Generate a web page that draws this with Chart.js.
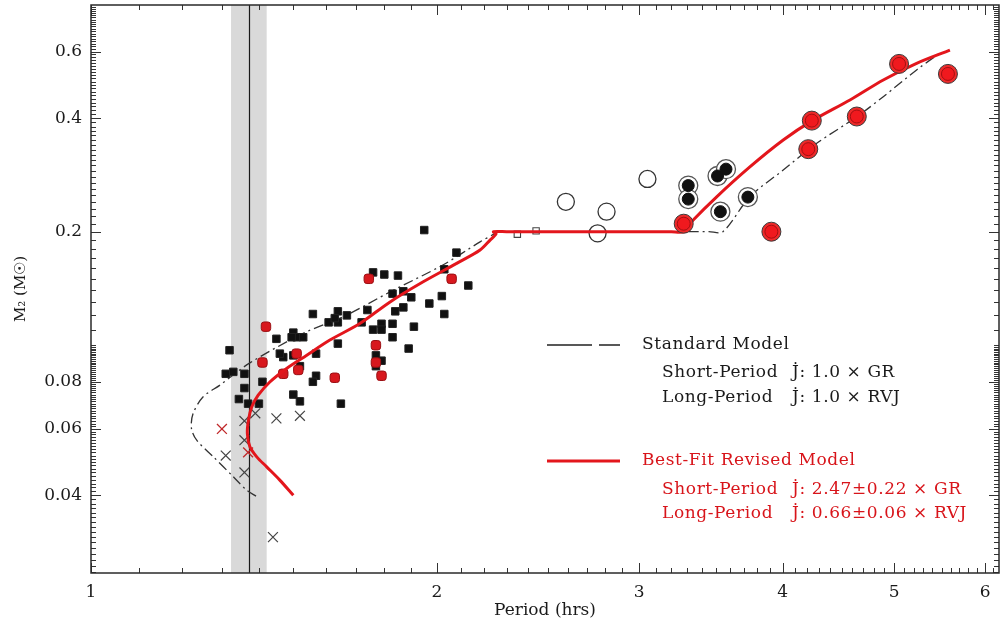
<!DOCTYPE html>
<html><head><meta charset="utf-8">
<script src="https://cdn.jsdelivr.net/npm/chart.js@4.4.1/dist/chart.umd.min.js"></script>
<style>html,body{margin:0;padding:0;background:#fff;}</style>
</head><body>
<canvas id="c" width="1003" height="629"></canvas>
<script>
// ---------- data ----------
const xTickValues = [1, 2, 3, 4, 5, 6];
const yTickValues = [0.04, 0.06, 0.08, 0.2, 0.4, 0.6];
const periodRange = [1, 6.17];
const massRange = [0.0249, 0.798];
const bounceBand = [1.324, 1.422];
const bounceLine = 1.373;

const blackSquares = [[1.95,0.202],[2.08,0.176],[2.03,0.159],[2.13,0.144],[1.76,0.156],[1.80,0.154],[1.85,0.153],[1.83,0.137],[1.87,0.139],[1.90,0.134],[1.97,0.129],[2.02,0.135],[2.03,0.121],[1.74,0.124],[1.84,0.123],[1.87,0.126],[1.56,0.121],[1.64,0.123],[1.67,0.120],[1.61,0.115],[1.64,0.115],[1.63,0.118],[1.72,0.115],[1.76,0.110],[1.79,0.114],[1.83,0.114],[1.79,0.110],[1.91,0.112],[1.83,0.105],[1.89,0.098],[1.64,0.101],[1.57,0.095],[1.50,0.108],[1.51,0.105],[1.53,0.105],[1.495,0.105],[1.45,0.104],[1.47,0.093],[1.46,0.095],[1.50,0.094],[1.52,0.088],[1.57,0.083],[1.56,0.080],[1.50,0.074],[1.52,0.071],[1.65,0.070],[1.79,0.091],[1.77,0.094],[1.77,0.088],[1.32,0.097],[1.31,0.084],[1.33,0.085],[1.36,0.084],[1.36,0.077],[1.345,0.072],[1.37,0.070],[1.40,0.070],[1.41,0.080]];
const redSquares = [[1.745,0.150],[2.06,0.150],[1.42,0.112],[1.41,0.090],[1.51,0.095],[1.515,0.086],[1.47,0.084],[1.63,0.082],[1.77,0.100],[1.77,0.090],[1.79,0.083]];
const openSquares = [[2.35,0.197],[2.44,0.201]];
const openCircles = [[2.59,0.240],[2.81,0.226],[3.05,0.276],[2.76,0.198]];
const blackCircles = [[3.31,0.265],[3.31,0.244],[3.51,0.281],[3.57,0.293],[3.53,0.226],[3.73,0.247]];
const redCircles = [[3.28,0.210],[5.05,0.557],[5.57,0.524],[4.24,0.394],[4.64,0.404],[4.21,0.331],[3.91,0.200]];
const blackCrosses = [[1.39,0.066],[1.45,0.064],[1.52,0.065],[1.31,0.051],[1.36,0.046],[1.36,0.056],[1.36,0.063],[1.44,0.031]];
const redCrosses = [[1.30,0.060],[1.37,0.052]];

const bestFitModel = [[1.50,0.0400],[1.46,0.0439],[1.422,0.0476],[1.394,0.0506],[1.375,0.0538],[1.368,0.0583],[1.371,0.0633],[1.380,0.0686],[1.398,0.0737],[1.431,0.0799],[1.480,0.0868],[1.541,0.0941],[1.614,0.1032],[1.714,0.1142],[1.821,0.1303],[1.946,0.1473],[2.081,0.1648],[2.181,0.1788],[2.225,0.190],[2.252,0.1975],[2.240,0.2],[2.30,0.2],[3.20,0.2],[3.28,0.2],[3.343,0.2147],[3.504,0.2475],[3.745,0.297],[4.004,0.350],[4.244,0.394],[4.577,0.447],[4.893,0.505],[5.231,0.559],[5.592,0.606]];
const standardModel = [[1.392,0.0398],[1.366,0.0413],[1.330,0.0448],[1.278,0.0506],[1.236,0.0560],[1.223,0.0602],[1.227,0.0659],[1.252,0.0730],[1.295,0.0784],[1.375,0.0898],[1.530,0.1075],[1.669,0.1202],[1.821,0.1385],[2.026,0.1635],[2.181,0.188],[2.247,0.198],[2.247,0.2],[2.30,0.2],[3.45,0.2],[3.548,0.2],[3.745,0.2475],[4.004,0.2914],[4.282,0.343],[4.641,0.4035],[4.893,0.456],[5.231,0.537],[5.48,0.595]];

const legendStandard = {title: 'Standard Model', rows: [['Short-Period', 'J\u0307: 1.0 \u00d7 GR'], ['Long-Period', 'J\u0307: 1.0 \u00d7 RVJ']]};
const legendBestFit = {title: 'Best-Fit Revised Model', rows: [['Short-Period', 'J\u0307: 2.47\u00b10.22 \u00d7 GR'], ['Long-Period', 'J\u0307: 0.66\u00b10.06 \u00d7 RVJ']]};

// ---------- helpers ----------
const FONT = '"DejaVu Serif", "Liberation Serif", serif';
const RED = '#e3161c';
const pts = arr => arr.map(([x, y]) => ({x, y}));

const decor = {
  id: 'decor',
  beforeDatasetsDraw(chart) {
    const {ctx, chartArea: a, scales: {x}} = chart;
    ctx.save();
    const x0 = x.getPixelForValue(bounceBand[0]);
    const x1 = x.getPixelForValue(bounceBand[1]);
    ctx.fillStyle = '#d9d9d9';
    ctx.fillRect(x0, a.top, x1 - x0, a.bottom - a.top);
    const xl = Math.round(x.getPixelForValue(bounceLine)) + 0.5;
    ctx.strokeStyle = '#1a1a1a';
    ctx.lineWidth = 1.2;
    ctx.beginPath(); ctx.moveTo(xl, a.top); ctx.lineTo(xl, a.bottom); ctx.stroke();
    ctx.restore();
  },
  afterDraw(chart) {
    const {ctx, chartArea: a, scales: {x, y}} = chart;
    ctx.save();
    // ticks (inward, all four sides)
    ctx.strokeStyle = '#333';
    ctx.lineWidth = 1;
    ctx.beginPath();
    const xMinor = [];
    for (let i = 11; i <= 62; i++) if (i % 10) xMinor.push(i / 10);
    const yMinor = [];
    for (let i = 25; i < 100; i++) yMinor.push(i / 1000);
    for (let i = 10; i < 80; i++) yMinor.push(i / 100);
    const xt = (v, len) => {
      const p = Math.round(x.getPixelForValue(v)) + 0.5;
      if (p < a.left || p > a.right) return;
      ctx.moveTo(p, a.bottom); ctx.lineTo(p, a.bottom - len);
      ctx.moveTo(p, a.top); ctx.lineTo(p, a.top + len);
    };
    const yt = (v, len) => {
      const p = Math.round(y.getPixelForValue(v)) + 0.5;
      if (p < a.top || p > a.bottom) return;
      ctx.moveTo(a.left, p); ctx.lineTo(a.left + len, p);
      ctx.moveTo(a.right, p); ctx.lineTo(a.right - len, p);
    };
    xMinor.forEach(v => xt(v, 5));
    xTickValues.forEach(v => xt(v, 10));
    yMinor.forEach(v => { if (!yTickValues.includes(v)) yt(v, 5); });
    yTickValues.forEach(v => yt(v, 10));
    ctx.stroke();
    // frame
    ctx.strokeStyle = '#2a2a2a';
    ctx.lineWidth = 1.5;
    ctx.strokeRect(a.left, a.top, a.right - a.left, a.bottom - a.top);

    // legend
    const lx = a.left + 456, tx = a.left + 551, rx = a.left + 571, jx = a.left + 701;
    ctx.font = '17px ' + FONT;
    ctx.letterSpacing = '0.6px';
    ctx.textBaseline = 'middle';
    ctx.textAlign = 'left';
    // standard
    let ly = 345;
    ctx.strokeStyle = '#222'; ctx.lineWidth = 1.3;
    ctx.beginPath(); ctx.moveTo(lx, ly); ctx.lineTo(lx + 45, ly); ctx.moveTo(lx + 52, ly); ctx.lineTo(lx + 73, ly); ctx.stroke();
    ctx.fillStyle = '#1a1a1a';
    ctx.fillText(legendStandard.title, tx, ly);
    legendStandard.rows.forEach((r, i) => {
      const yy = 373 + i * 25;
      ctx.fillText(r[0], rx, yy); ctx.fillText(r[1], jx, yy);
    });
    // best-fit
    ly = 461;
    ctx.strokeStyle = RED; ctx.lineWidth = 3;
    ctx.beginPath(); ctx.moveTo(lx, ly); ctx.lineTo(lx + 73, ly); ctx.stroke();
    ctx.fillStyle = '#d8141a';
    ctx.fillText(legendBestFit.title, tx, ly);
    legendBestFit.rows.forEach((r, i) => {
      const yy = 490 + i * 24;
      ctx.fillText(r[0], rx, yy); ctx.fillText(r[1], jx, yy);
    });
    ctx.restore();
  }
};

const ds = [
  {label: 'redCirclesCore', data: pts(redCircles), pointStyle: 'circle', pointRadius: 6.5, backgroundColor: '#f0191e', borderColor: '#a30f12', borderWidth: 1, order: 0},
  {label: 'redCirclesRing', data: pts(redCircles), pointStyle: 'circle', pointRadius: 9.5, backgroundColor: '#ee2a2a', borderColor: '#3a3a3a', borderWidth: 1, order: 1},
  {label: 'bestFit', data: pts(bestFitModel), showLine: true, pointRadius: 0, borderColor: RED, borderWidth: 3, tension: 0.3, order: 2},
  {label: 'blackCirclesCore', data: pts(blackCircles), pointStyle: 'circle', pointRadius: 6, backgroundColor: '#111', borderColor: '#111', borderWidth: 1, order: 3},
  {label: 'blackCirclesRing', data: pts(blackCircles), pointStyle: 'circle', pointRadius: 9.5, backgroundColor: '#fff', borderColor: '#555', borderWidth: 1.3, order: 4},
  {label: 'openCircles', data: pts(openCircles), pointStyle: 'circle', pointRadius: 8.5, backgroundColor: 'rgba(255,255,255,0)', borderColor: '#333', borderWidth: 1.3, order: 5},
  {label: 'openSquares', data: pts(openSquares), pointStyle: 'rect', pointRadius: 4.5, backgroundColor: '#fff', borderColor: '#444', borderWidth: 1.1, order: 6},
  {label: 'redSquares', data: pts(redSquares), pointStyle: 'rectRounded', pointRadius: 5.5, backgroundColor: '#d8181e', borderColor: '#9a1014', borderWidth: 1, order: 7},
  {label: 'blackSquares', data: pts(blackSquares), pointStyle: 'rect', pointRadius: 5.3, backgroundColor: '#111', borderColor: '#222', borderWidth: 1, order: 8},
  {label: 'redCrosses', data: pts(redCrosses), pointStyle: 'crossRot', pointRadius: 7, borderColor: '#c0282a', borderWidth: 1.3, order: 9},
  {label: 'blackCrosses', data: pts(blackCrosses), pointStyle: 'crossRot', pointRadius: 7, borderColor: '#444', borderWidth: 1.2, order: 10},
  {label: 'standard', data: pts(standardModel), showLine: true, pointRadius: 0, borderColor: '#333', borderWidth: 1.3, borderDash: [10, 4, 2, 4], tension: 0.3, order: 11}
];

new Chart(document.getElementById('c'), {
  type: 'scatter',
  data: {datasets: ds},
  options: {
    responsive: false,
    animation: false,
    devicePixelRatio: 1,
    layout: {autoPadding: false, padding: {top: 5, right: 4, left: 0, bottom: 0}},
    plugins: {legend: {display: false}, tooltip: {enabled: false}},
    elements: {point: {hoverRadius: 0}},
    scales: {
      x: {
        type: 'logarithmic', min: periodRange[0], max: periodRange[1],
        grid: {display: false, drawTicks: false},
        border: {display: false},
        afterBuildTicks: s => { s.ticks = xTickValues.map(v => ({value: v})); },
        afterFit: s => { s.height = 56; s.paddingLeft = 0; s.paddingRight = 0; },
        ticks: {autoSkip: false, maxRotation: 0, padding: 9, color: '#1a1a1a', font: {family: FONT, size: 17}, callback: v => String(v)},
        title: {display: true, text: 'Period (hrs)', color: '#1a1a1a', font: {family: FONT, size: 17}, padding: {top: 0, bottom: 8}}
      },
      y: {
        type: 'logarithmic', min: massRange[0], max: massRange[1],
        grid: {display: false, drawTicks: false},
        border: {display: false},
        afterBuildTicks: s => { s.ticks = yTickValues.map(v => ({value: v})); },
        afterFit: s => { s.width = 91; s.paddingTop = 0; s.paddingBottom = 0; },
        ticks: {autoSkip: false, padding: 9, color: '#1a1a1a', font: {family: FONT, size: 17}, callback: v => String(v)},
        title: {display: true, text: 'M\u2082 (M\u2609)', color: '#1a1a1a', font: {family: FONT, size: 15}, padding: {top: 12, bottom: 0}}
      }
    }
  },
  plugins: [decor]
});
</script>
</body></html>
